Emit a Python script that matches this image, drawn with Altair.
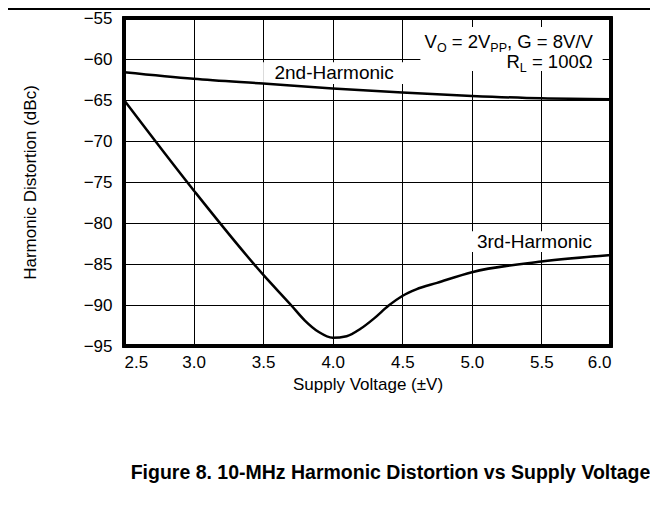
import altair as alt
import pandas as pd

# ---- data ----
volt_2nd = [2.5, 3.0, 3.5, 4.0, 4.5, 5.0, 5.5, 6.0]
hd_2nd = [-61.6, -62.4, -63.0, -63.6, -64.1, -64.5, -64.8, -64.9]

volt_3rd = [2.5, 3.0, 3.5, 3.7, 3.8, 3.9, 4.0, 4.1, 4.2, 4.3, 4.4, 4.5, 4.6, 4.75, 5.0, 5.5, 6.0]
hd_3rd = [-65.0, -76.0, -86.3, -90.0, -91.9, -93.3, -94.0, -93.8, -92.9, -91.6, -90.1, -88.9,
          -88.1, -87.3, -86.0, -84.7, -83.9]

x_ticks = [2.5, 3.0, 3.5, 4.0, 4.5, 5.0, 5.5, 6.0]
y_ticks = [-95, -90, -85, -80, -75, -70, -65, -60, -55]

curve_labels = ["2nd-Harmonic", "3rd-Harmonic"]
curve_label_x = [4.01, 5.45]
curve_label_y = [-61.75, -82.3]

caption = "Figure 8. 10-MHz Harmonic Distortion vs Supply Voltage"

FONT = "Liberation Sans, Arial, Helvetica, sans-serif"
F = 17      # axis font size
FL = 18.5   # annotation size
FC = 19     # curve label size
S = 12.5    # subscript size
W, H = 487, 328
XMIN, XMAX, YMIN, YMAX = 2.5, 6.0, -95, -55

# Arial advance widths (per em) used to chain subscript pieces
ADV = {' ': .278, ',': .278, '=': .584, '/': .278, 'V': .667, 'O': .778, 'P': .667,
       'G': .778, 'R': .722, 'L': .556, 'Ω': .768}
for d in "0123456789":
    ADV[d] = .556

def text_w(s, size):
    return sum(ADV.get(c, .556) for c in s) * size

px_per_x = W / (XMAX - XMIN)

# annotation lines: list of (text, is_subscript); leading spaces become gaps
ann_lines = [
    [("V", False), ("O", True), (" = 2V", False), ("PP", True), (", G = 8V/V", False)],
    [("R", False), ("L", True), (" = 100Ω", False)],
]
ann_right_x = 5.87            # right end of the annotation (data units)
ann_base_y = [-58.6, -61.1]   # baselines (data units)
sub_drop = 0.5                # subscript drop (data units)

rows = []
for line, by in zip(ann_lines, ann_base_y):
    total = sum(text_w(t, S if sub else FL) for t, sub in line)
    cur = ann_right_x - total / px_per_x
    for t, sub in line:
        size = S if sub else FL
        stripped = t.lstrip(" ")
        lead = t[: len(t) - len(stripped)]
        start = cur + text_w(lead, size) / px_per_x
        rows.append({"x": start, "y": by - (sub_drop if sub else 0.0), "t": stripped, "size": size})
        cur += text_w(t, size) / px_per_x
ann_df = pd.DataFrame(rows)

# white boxes behind the texts (data units)
box_df = pd.DataFrame({
    "x": [4.63, 3.50, 4.95],
    "x2": [5.94, 4.52, 5.95],
    "y": [-56.1, -60.4, -81.0],
    "y2": [-61.45, -63.05, -83.55],
})

df2 = pd.DataFrame({"v": volt_2nd, "hd": hd_2nd})
df3 = pd.DataFrame({"v": volt_3rd, "hd": hd_3rd})
lab_df = pd.DataFrame({"x": curve_label_x, "y": curve_label_y, "t": curve_labels})

xs = alt.Scale(domain=[XMIN, XMAX], nice=False, zero=False)
ys = alt.Scale(domain=[YMIN, YMAX], nice=False, zero=False)

x_axis = alt.Axis(values=x_ticks, format=".1f", grid=True, domain=False, ticks=False,
                  labelFontSize=F, labelPadding=8, labelColor="black", labelFont=FONT,
                  title="Supply Voltage (±V)", titleFontSize=F, titleFont=FONT,
                  titleFontWeight="normal", titleColor="black", titlePadding=6,
                  gridColor="black", gridWidth=1, gridOpacity=1)
y_axis = alt.Axis(values=y_ticks, format="d", grid=True, domain=False, ticks=False,
                  labelFontSize=F, labelPadding=12, labelColor="black", labelFont=FONT,
                  title="Harmonic Distortion (dBc)", titleFontSize=F, titleFont=FONT,
                  titleFontWeight="normal", titleColor="black", titlePadding=44,
                  gridColor="black", gridWidth=1, gridOpacity=1)

base_axes = alt.Chart(df2).mark_line(opacity=0).encode(
    x=alt.X("v:Q", scale=xs, axis=x_axis),
    y=alt.Y("hd:Q", scale=ys, axis=y_axis),
)

boxes = alt.Chart(box_df).mark_rect(color="white").encode(
    x=alt.X("x:Q", scale=xs), x2="x2:Q",
    y=alt.Y("y:Q", scale=ys), y2="y2:Q",
)

line2 = alt.Chart(df2).mark_line(color="black", strokeWidth=2.5, interpolate="monotone").encode(
    x=alt.X("v:Q", scale=xs), y=alt.Y("hd:Q", scale=ys))
line3 = alt.Chart(df3).mark_line(color="black", strokeWidth=2.5, interpolate="monotone").encode(
    x=alt.X("v:Q", scale=xs), y=alt.Y("hd:Q", scale=ys))

labels = alt.Chart(lab_df).mark_text(font=FONT, fontSize=FC, color="black",
                                     align="center", baseline="middle").encode(
    x=alt.X("x:Q", scale=xs), y=alt.Y("y:Q", scale=ys), text="t:N")

ann = alt.Chart(ann_df).mark_text(font=FONT, color="black", align="left",
                                  baseline="alphabetic").encode(
    x=alt.X("x:Q", scale=xs), y=alt.Y("y:Q", scale=ys), text="t:N",
    size=alt.Size("size:Q", scale=None, legend=None))

frame = alt.Chart(df2).mark_rect(fill=None, stroke="black", strokeWidth=3).encode(
    x=alt.value(0), x2=alt.value(W), y=alt.value(0), y2=alt.value(H))

top_rule = alt.Chart(df2).mark_rule(color="black", strokeWidth=2).encode(
    x=alt.value(-120), x2=alt.value(560), y=alt.value(-9))

chart = alt.layer(base_axes, boxes, line2, line3, labels, ann, frame, top_rule).properties(
    width=W, height=H,
    autosize=alt.AutoSizeParams(type="none"),
    padding={"left": 116, "top": 10, "right": 39, "bottom": 168},
    title=alt.TitleParams(caption, orient="bottom", anchor="middle", dx=23, offset=72,
                          font=FONT, fontSize=19.5, fontWeight="bold", color="black"),
).configure_view(stroke=None).configure(background="white")

chart.save("out.html", embed_options={"renderer": "svg", "actions": False})
